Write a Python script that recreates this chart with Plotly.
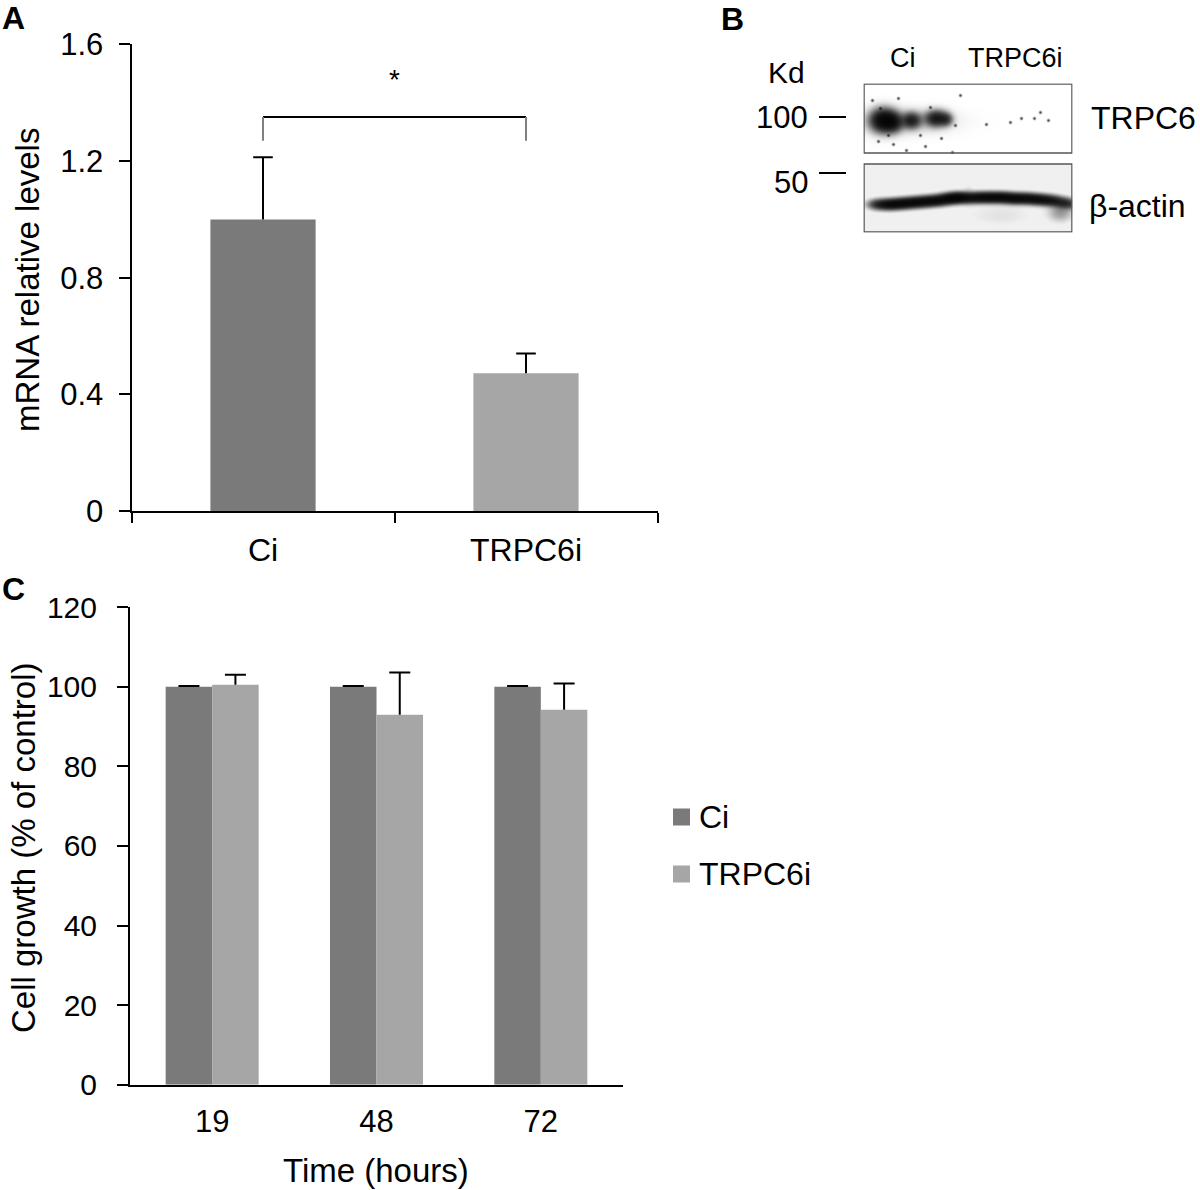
import numpy as np
import plotly.graph_objects as go

W, H = 1200, 1190

# ---------------- data ----------------
a_categories = ["Ci", "TRPC6i"]
a_values = [1.0, 0.472]
a_errors = [0.213, 0.068]
a_colors = ["#7a7a7a", "#a6a6a6"]
a_yticks = [0, 0.4, 0.8, 1.2, 1.6]
a_yticklabels = ["0", "0.4", "0.8", "1.2", "1.6"]
a_bracket_low = 1.27
a_bracket_high = 1.351
a_star_y = 1.48

c_categories = ["19", "48", "72"]
c_series_names = ["Ci", "TRPC6i"]
c_series_colors = ["#7a7a7a", "#a6a6a6"]
c_ci_values = [100.0, 100.0, 100.0]
c_ci_errors = [0.2, 0.2, 0.2]
c_trpc_values = [100.5, 93.0, 94.2]
c_trpc_errors = [2.5, 10.6, 6.6]
c_yticks = [0, 20, 40, 60, 80, 100, 120]

# western blot (panel B) description, in page pixels
blot_x = [864, 1072]
trpc6_box_y = [84, 153]
actin_box_y = [164, 232]
# TRPC6 band blobs: centre x, centre y, sigma x, sigma y, strength
trpc6_bx = [883, 893, 911, 936, 946, 905]
trpc6_by = [120, 122, 120, 118, 119, 121]
trpc6_sx = [8, 6, 6, 7, 4, 30]
trpc6_sy = [7, 6, 5, 5, 4, 8]
trpc6_amp = [3.2, 1.6, 1.9, 2.2, 1.0, 0.25]
trpc6_speck_x = [878, 893, 906, 925, 941, 952, 1010, 1021, 1034, 1040, 986, 1048, 872, 898, 960,
                 888, 920, 955, 880, 930]
trpc6_speck_y = [141, 144, 150, 146, 138, 152, 122, 118, 118, 112, 124, 120, 100, 98, 95,
                 135, 135, 125, 108, 107]
# beta-actin band centre line
actin_bx = [878, 890, 902, 914, 926, 938, 950, 960, 969, 978, 990, 1002, 1014, 1026, 1038, 1050, 1062, 1070]
actin_by = [204, 204, 203, 202, 201, 200, 198, 197, 198, 197, 197, 197, 198, 198, 199, 200, 202, 204]
actin_amp = [1.6, 2.4, 2.4, 2.4, 2.4, 2.4, 2.6, 2.4, 1.0, 2.2, 2.4, 2.4, 2.4, 2.2, 2.2, 1.9, 1.3, 0.8]
actin_smudge = [(1060, 212, 8, 6, 0.5), (1000, 215, 25, 8, 0.12), (968, 190, 3, 10, 0.08)]


def px(x):
    return x / W


def py(y):
    return 1 - y / H


fig = go.Figure()

# ---------------- Panel A ----------------
fig.add_trace(go.Bar(
    x=a_categories, y=a_values, width=0.4,
    marker=dict(color=a_colors, line=dict(width=0)),
    xaxis="x", yaxis="y", showlegend=False, hoverinfo="skip",
))
err_x, err_y = [], []
for cat, v, e in zip(a_categories, a_values, a_errors):
    err_x += [cat, cat, None]
    err_y += [v, v + e, None]
fig.add_trace(go.Scatter(x=err_x, y=err_y, mode="lines", line=dict(color="black", width=2),
                         xaxis="x", yaxis="y", showlegend=False, hoverinfo="skip"))
fig.add_trace(go.Scatter(x=a_categories, y=[v + e for v, e in zip(a_values, a_errors)],
                         mode="markers",
                         marker=dict(symbol="line-ew", size=14, line=dict(color="black", width=2)),
                         xaxis="x", yaxis="y", showlegend=False, hoverinfo="skip"))

# ---------------- Panel C ----------------
bw = 0.283
c_idx = list(range(len(c_categories)))
for k, (vals, errs) in enumerate([(c_ci_values, c_ci_errors), (c_trpc_values, c_trpc_errors)]):
    off = -bw if k == 0 else 0.0
    fig.add_trace(go.Bar(
        x=c_idx, y=vals, width=bw, offset=off, name=c_series_names[k],
        marker=dict(color=c_series_colors[k], line=dict(width=0)),
        xaxis="x2", yaxis="y2", showlegend=False, hoverinfo="skip",
    ))
    centers = [i + off + bw / 2 for i in c_idx]
    ex, ey = [], []
    for cx, v, e in zip(centers, vals, errs):
        ex += [cx, cx, None]
        ey += [v, v + e, None]
    fig.add_trace(go.Scatter(x=ex, y=ey, mode="lines", line=dict(color="black", width=2),
                             xaxis="x2", yaxis="y2", showlegend=False, hoverinfo="skip"))
    fig.add_trace(go.Scatter(x=centers, y=[v + e for v, e in zip(vals, errs)], mode="markers",
                             marker=dict(symbol="line-ew", size=15, line=dict(color="black", width=2)),
                             xaxis="x2", yaxis="y2", showlegend=False, hoverinfo="skip"))

# ---------------- Panel B (blot image) ----------------
gx = np.arange(blot_x[0], blot_x[1] + 1)
gy = np.arange(trpc6_box_y[0], actin_box_y[1] + 1)
XX, YY = np.meshgrid(gx, gy)
dens = np.zeros_like(XX, dtype=float)
for cx, cy, sx, sy, a in zip(trpc6_bx, trpc6_by, trpc6_sx, trpc6_sy, trpc6_amp):
    dens += a * np.exp(-0.5 * (((XX - cx) / sx) ** 2 + ((YY - cy) / sy) ** 2))
for cx, cy in zip(trpc6_speck_x, trpc6_speck_y):
    dens += 1.2 * np.exp(-0.5 * (((XX - cx) / 0.9) ** 2 + ((YY - cy) / 0.9) ** 2))
for cx, cy, a in zip(actin_bx, actin_by, actin_amp):
    dens += a * np.exp(-0.5 * (((XX - cx) / 7.0) ** 2 + ((YY - cy) / 3.4) ** 2))
for cx, cy, sx, sy, a in actin_smudge:
    dens += a * np.exp(-0.5 * (((XX - cx) / sx) ** 2 + ((YY - cy) / sy) ** 2))
dark = 1 - np.exp(-dens)
in_trpc = (YY >= trpc6_box_y[0]) & (YY <= trpc6_box_y[1])
in_actin = (YY >= actin_box_y[0]) & (YY <= actin_box_y[1])
dark = np.where(in_actin, np.maximum(dark, 0.06), dark)
dark = np.where(in_trpc | in_actin, dark, 0.0)
fig.add_trace(go.Heatmap(x=gx, y=gy, z=dark, zmin=0, zmax=1,
                         colorscale=[[0, "#ffffff"], [1, "#000000"]], showscale=False,
                         xaxis="x3", yaxis="y3", hoverinfo="skip"))

font_main = "Liberation Sans, Arial, Helvetica, sans-serif"

axis_common = dict(showline=True, linecolor="black", linewidth=2, showgrid=False,
                   zeroline=False, tickcolor="black", tickwidth=2, automargin=False)

shapes = []
# significance bracket in panel A
shapes.append(dict(type="line", xref="x", yref="y", x0=0, x1=1, y0=a_bracket_high, y1=a_bracket_high,
                   line=dict(color="black", width=2)))
shapes.append(dict(type="line", xref="x", yref="y", x0=0, x1=0, y0=a_bracket_low, y1=a_bracket_high,
                   line=dict(color="#808080", width=2)))
shapes.append(dict(type="line", xref="x", yref="y", x0=1, x1=1, y0=a_bracket_low, y1=a_bracket_high,
                   line=dict(color="#808080", width=2)))

# blot boxes
for by in (trpc6_box_y, actin_box_y):
    shapes.append(dict(type="rect", xref="x3", yref="y3", x0=blot_x[0], x1=blot_x[1],
                       y0=by[0], y1=by[1], line=dict(color="#555555", width=1.5)))
# marker dashes
for yy in (117, 173):
    shapes.append(dict(type="line", xref="paper", yref="paper", x0=px(819), x1=px(846),
                       y0=py(yy), y1=py(yy), line=dict(color="black", width=2)))

annotations = []


def ann(text, x, y, size, xanchor="center", yanchor="middle", bold=False, angle=0):
    annotations.append(dict(text=("<b>%s</b>" % text) if bold else text,
                            xref="paper", yref="paper", x=px(x), y=py(y),
                            xanchor=xanchor, yanchor=yanchor, showarrow=False,
                            textangle=angle,
                            font=dict(family=font_main, size=size, color="black")))


# legend for panel C (drawn manually to match square size)
leg_y = [817, 874]
for name, col, ly in zip(c_series_names, c_series_colors, leg_y):
    shapes.append(dict(type="rect", xref="paper", yref="paper", x0=px(673), x1=px(690),
                       y0=py(ly + 8.5), y1=py(ly - 8.5), fillcolor=col, line=dict(width=0)))
    ann(name, 697, ly, 32, xanchor="left")

ann("A", 0, 18, 32, xanchor="left", bold=True)
ann("B", 719, 19, 32, xanchor="left", bold=True)
ann("C", 0, 589, 32, xanchor="left", bold=True)
ann("mRNA relative levels", 27, 280, 33, angle=-90)
ann("Cell growth (% of control)", 23, 848, 33, angle=-90)
ann("Time (hours)", 376, 1170, 33)
annotations.append(dict(text="*", xref="x", yref="y", x=0.5, y=a_star_y, showarrow=False,
                        font=dict(family=font_main, size=28, color="black")))
ann("Kd", 786, 72, 30)
ann("100", 810, 118, 31, xanchor="right")
ann("50", 810, 182, 31, xanchor="right")
ann("Ci", 903, 58, 27)
ann("TRPC6i", 1015, 58, 27)
ann("TRPC6", 1089, 118, 32, xanchor="left")
ann("β-actin", 1087, 206, 32, xanchor="left")

tf31 = dict(family=font_main, size=31, color="black")
tf30 = dict(family=font_main, size=30, color="black")

fig.update_layout(
    template="none",
    width=W, height=H, margin=dict(l=0, r=0, t=0, b=0, autoexpand=False),
    paper_bgcolor="white", plot_bgcolor="rgba(0,0,0,0)",
    barmode="overlay",
    font=dict(family=font_main, color="black"),
    showlegend=False,
    xaxis=dict(domain=[131.5 / W, 657.5 / W], anchor="y", type="category",
               categoryorder="array", categoryarray=a_categories, range=[-0.5, 1.5],
               ticks="outside", tickson="boundaries", ticklen=10, ticklabelstandoff=10,
               tickfont=dict(family=font_main, size=32, color="black"), **axis_common),
    yaxis=dict(domain=[py(511), py(44.4)], anchor="x", range=[0, 1.6],
               tickvals=a_yticks, ticktext=a_yticklabels,
               ticks="outside", ticklen=11, ticklabelstandoff=9, tickfont=tf31, **axis_common),
    xaxis2=dict(domain=[130 / W, 623 / W], anchor="y2", range=[-0.5, len(c_categories) - 0.5],
                tickvals=c_idx, ticktext=c_categories,
                ticks="", ticklabelstandoff=8, tickfont=tf31, **axis_common),
    yaxis2=dict(domain=[py(1084.7), py(607.2)], anchor="x2", range=[0, 120],
                tickvals=c_yticks, ticks="outside", ticklen=11, ticklabelstandoff=14,
                tickfont=tf30, **axis_common),
    xaxis3=dict(domain=[px(blot_x[0] - 0.5), px(blot_x[1] + 0.5)], anchor="y3",
                range=[blot_x[0] - 0.5, blot_x[1] + 0.5], visible=False),
    yaxis3=dict(domain=[py(actin_box_y[1] + 0.5), py(trpc6_box_y[0] - 0.5)], anchor="x3",
                range=[actin_box_y[1] + 0.5, trpc6_box_y[0] - 0.5], visible=False),
    shapes=shapes, annotations=annotations,
)

fig.write_html("out.html", config={"displayModeBar": False},
               post_script="document.body.style.margin='0';")
